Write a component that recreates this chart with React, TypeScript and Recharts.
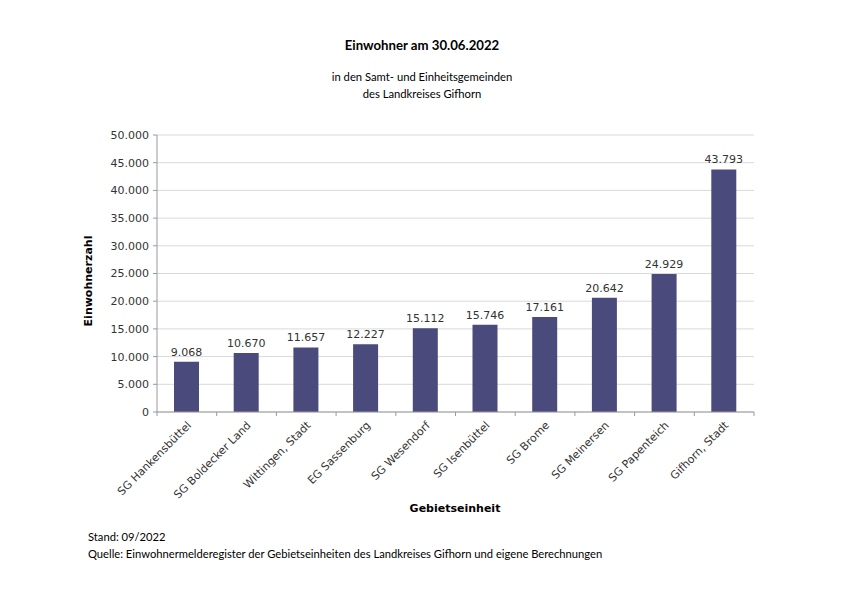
import React from "react";
import { BarChart, Bar, XAxis, YAxis, CartesianGrid, LabelList } from "recharts";

const categories = [
  "SG Hankensbüttel",
  "SG Boldecker Land",
  "Wittingen, Stadt",
  "EG Sassenburg",
  "SG Wesendorf",
  "SG Isenbüttel",
  "SG Brome",
  "SG Meinersen",
  "SG Papenteich",
  "Gifhorn, Stadt",
];
const einwohner = [9068, 10670, 11657, 12227, 15112, 15746, 17161, 20642, 24929, 43793];
const yTicks = [0, 5000, 10000, 15000, 20000, 25000, 30000, 35000, 40000, 45000, 50000];

const data = categories.map((name, i) => ({ name, value: einwohner[i] }));

const fmt = (v: number) => String(v).replace(/\B(?=(\d{3})+(?!\d))/g, ".");

const VERDANA = "'DejaVu Sans', Verdana, sans-serif";
const CALIBRI = "Lato, 'Open Sans', sans-serif";

const CHART_W = 844;
const MARGIN = { top: 135, right: 90, bottom: 95, left: 97 };
const Y_AXIS_W = 60;
const PLOT_W = CHART_W - MARGIN.left - MARGIN.right - Y_AXIS_W;
const BAND = PLOT_W / categories.length;

const XTick = (props: any) => {
  const { x, y, payload, index } = props;
  const top = y - 8;
  const isLast = index === categories.length - 1;
  return (
    <g>
      <line x1={x - BAND / 2} x2={x - BAND / 2} y1={top} y2={top + 4} stroke="#999" />
      {isLast && <line x1={x + BAND / 2} x2={x + BAND / 2} y1={top} y2={top + 4} stroke="#999" />}
      <text
        x={x + 5}
        y={y + 6}
        transform={`rotate(-45 ${x + 5} ${y + 6})`}
        textAnchor="end"
        fontFamily={VERDANA}
        fontSize={11}
        fill="#333"
      >
        {payload.value}
      </text>
    </g>
  );
};

export default function App() {
  return (
    <div style={{ position: "absolute", left: 0, top: 0, width: 844, height: 597, background: "#fff" }}>
      <div style={{ position: "absolute", left: 0, width: 844, top: 37, textAlign: "center", fontFamily: CALIBRI, fontWeight: 700, fontSize: 13.2, color: "#000" }}>
        Einwohner am 30.06.2022
      </div>
      <div style={{ position: "absolute", left: 0, width: 844, top: 68, textAlign: "center", fontFamily: CALIBRI, fontSize: 11.25, lineHeight: "17px", color: "#000" }}>
        in den Samt- und Einheitsgemeinden
        <br />
        des Landkreises Gifhorn
      </div>
      <div style={{ position: "absolute", left: 0, top: 0 }}>
        <BarChart width={CHART_W} height={597} data={data} margin={MARGIN}>
          <CartesianGrid vertical={false} stroke="#d9d9d9" />
          <XAxis
            dataKey="name"
            interval={0}
            height={90}
            tick={<XTick />}
            stroke="#999"
            tickLine={false}
            axisLine={{ stroke: "#999" }}
          />
          <YAxis
            width={Y_AXIS_W}
            domain={[0, 50000]}
            ticks={yTicks}
            tickFormatter={fmt}
            tick={{ fontFamily: VERDANA, fontSize: 11, fill: "#333" }}
            tickSize={4}
            tickMargin={4}
            stroke="#999"
            allowDataOverflow
          />
          <Bar dataKey="value" fill="#4a4a7c" barSize={25} isAnimationActive={false}>
            <LabelList
              dataKey="value"
              position="top"
              offset={6}
              formatter={(v: any) => fmt(Number(v))}
              style={{ fontFamily: VERDANA, fontSize: 11, fill: "#333" }}
            />
          </Bar>
        </BarChart>
      </div>
      <div
        style={{
          position: "absolute",
          left: 88,
          top: 281,
          transform: "translate(-50%, -50%) rotate(-90deg)",
          fontFamily: VERDANA,
          fontWeight: 700,
          fontSize: 11,
          color: "#000",
          whiteSpace: "nowrap",
        }}
      >
        Einwohnerzahl
      </div>
      <div
        style={{
          position: "absolute",
          left: 455,
          top: 508,
          transform: "translate(-50%, -50%)",
          fontFamily: VERDANA,
          fontWeight: 700,
          fontSize: 11,
          color: "#000",
          whiteSpace: "nowrap",
        }}
      >
        Gebietseinheit
      </div>
      <div style={{ position: "absolute", left: 88, top: 529, fontFamily: CALIBRI, fontSize: 11.2, lineHeight: "16.5px", color: "#000", whiteSpace: "nowrap" }}>
        Stand: 09/2022
        <br />
        Quelle: Einwohnermelderegister der Gebietseinheiten des Landkreises Gifhorn und eigene Berechnungen
      </div>
    </div>
  );
}
